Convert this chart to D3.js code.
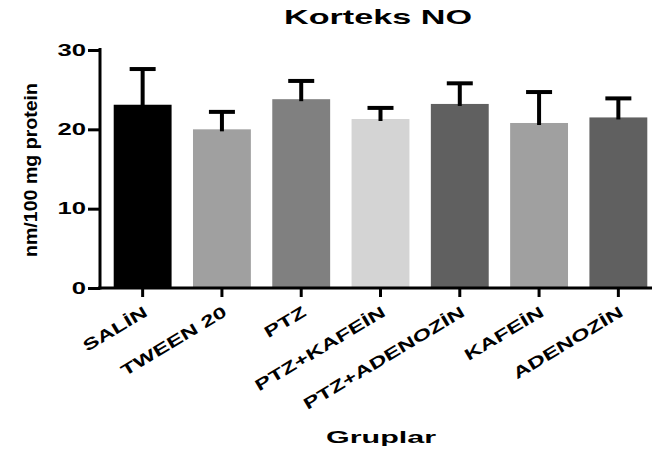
<!DOCTYPE html>
<html>
<head>
<meta charset="utf-8">
<script src="https://cdn.jsdelivr.net/npm/d3@7"></script>
<style>
  html, body { margin: 0; padding: 0; background: #fff; }
  svg { display: block; }
  text { font-family: "Liberation Sans", Arial, sans-serif; font-weight: bold; fill: #000; }
</style>
</head>
<body>
<svg id="chart" width="652" height="458"></svg>
<script>
const categories = ["SALİN", "TWEEN 20", "PTZ", "PTZ+KAFEİN", "PTZ+ADENOZİN", "KAFEİN", "ADENOZİN"];
const means = [23.1, 20.0, 23.8, 21.3, 23.2, 20.8, 21.5];
const sems  = [4.5, 2.2, 2.3, 1.4, 2.6, 3.9, 2.4];
const barColors = ["#000000", "#a0a0a0", "#808080", "#d4d4d4", "#606060", "#a0a0a0", "#606060"];
const yTicks = [0, 10, 20, 30];
const title = "Korteks NO";
const yTitle = "nm/100 mg protein";
const xTitle = "Gruplar";

const svg = d3.select("#chart");

const x = d3.scaleBand().domain(categories).range([103, 658]).paddingInner(0.27).paddingOuter(0.135);
const y = d3.scaleLinear().domain([0, 30]).range([288, 50]);

function stretch(sel, factor) {
  sel.each(function () {
    const len = this.getComputedTextLength();
    d3.select(this).attr("textLength", len * factor).attr("lengthAdjust", "spacingAndGlyphs");
  });
}

// bars
svg.append("g").selectAll("rect").data(categories).join("rect")
  .attr("x", d => x(d))
  .attr("width", x.bandwidth())
  .attr("y", (d, i) => y(means[i]))
  .attr("height", (d, i) => y(0) - y(means[i]))
  .attr("fill", (d, i) => barColors[i]);

// error bars (upper only)
const eb = svg.append("g").attr("stroke", "#000").attr("stroke-width", 4);
categories.forEach((c, i) => {
  const cx = x(c) + x.bandwidth() / 2;
  eb.append("line").attr("x1", cx).attr("x2", cx)
    .attr("y1", y(means[i]) + 2).attr("y2", y(means[i] + sems[i]));
  eb.append("line").attr("x1", cx - 13).attr("x2", cx + 13)
    .attr("y1", y(means[i] + sems[i])).attr("y2", y(means[i] + sems[i]));
});

// y axis
const yAxis = svg.append("g").attr("transform", "translate(100,0)")
  .call(d3.axisLeft(y).tickValues(yTicks).tickSize(12).tickPadding(2));
yAxis.select(".domain").attr("stroke-width", 3).attr("d", "M0," + (y(30) - 2) + "V" + (y(0) + 1.5));
yAxis.selectAll(".tick line").attr("stroke-width", 3);
yAxis.selectAll(".tick text").attr("font-size", 16).attr("fill", "#000")
  .call(stretch, 1.6);

// x axis
const xAxis = svg.append("g").attr("transform", "translate(0," + y(0) + ")")
  .call(d3.axisBottom(x).tickSize(9).tickFormat(""));
xAxis.select(".domain").attr("stroke-width", 3).attr("d", "M98,0H652");
xAxis.selectAll(".tick line").attr("stroke-width", 3);

// x labels
svg.append("g").selectAll("text").data(categories).join("text")
  .attr("text-anchor", "end")
  .attr("font-size", 16)
  .attr("transform", d => "translate(" + (x(d) + x.bandwidth() / 2 + 6) + ",315) rotate(-31)")
  .text(d => d)
  .call(stretch, 1.5);

// title
svg.append("text").attr("x", 378).attr("y", 24).attr("text-anchor", "middle")
  .attr("font-size", 21).text(title).attr("textLength", 188).attr("lengthAdjust", "spacingAndGlyphs");

// y title
svg.append("text").attr("transform", "translate(37,170) rotate(-90)").attr("text-anchor", "middle")
  .attr("font-size", 19).text(yTitle).attr("textLength", 174).attr("lengthAdjust", "spacingAndGlyphs");

// x title
svg.append("text").attr("x", 381).attr("y", 443).attr("text-anchor", "middle")
  .attr("font-size", 17).text(xTitle).attr("textLength", 110).attr("lengthAdjust", "spacingAndGlyphs");
</script>
</body>
</html>
